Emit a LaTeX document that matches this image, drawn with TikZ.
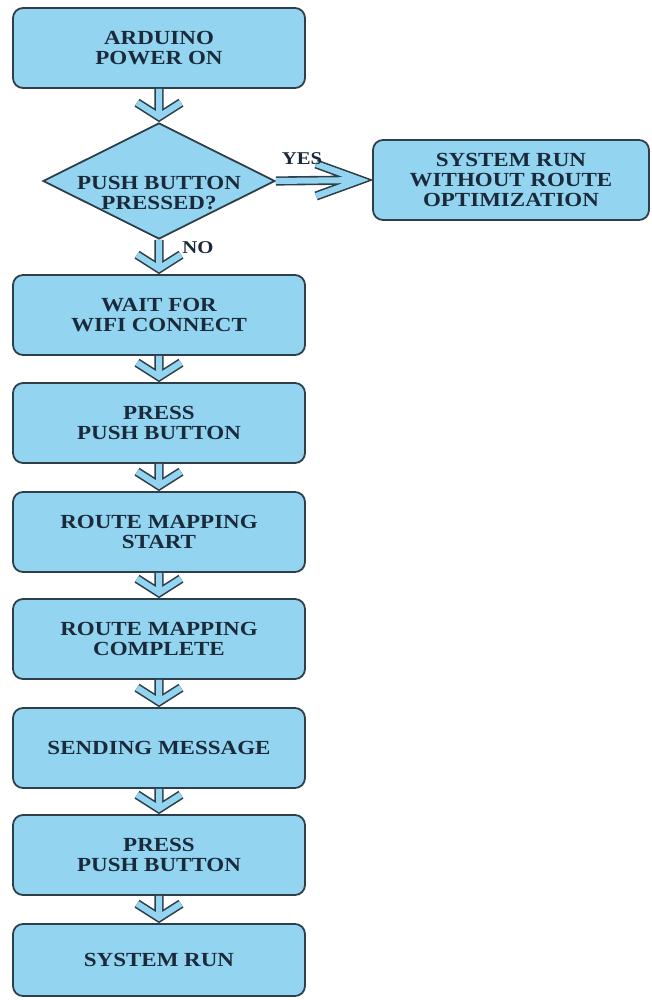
\documentclass[tikz,border=0pt]{standalone}
\usepackage{fontspec}
\setmainfont{Liberation Serif}[FakeStretch=1.15]
\usetikzlibrary{shapes.geometric}
\definecolor{boxfill}{HTML}{93D5F0}
\definecolor{boxline}{HTML}{2E3F4A}
\definecolor{boxtext}{HTML}{1B2A3A}
\tikzset{
	boxfont/.style={text=boxtext, align=center, font=\fontsize{10}{10}\selectfont\bfseries},
	procbox/.style={boxfont, rectangle, rounded corners=5pt, draw=boxline, line width=0.9pt,
			fill=boxfill, minimum width=146pt, minimum height=40pt},
	decbox/.style={diamond, inner sep=0pt, draw=boxline, line width=0.9pt,
			fill=boxfill, minimum width=116pt, minimum height=58pt},
	flowline/.style={draw=boxline, line width=0.8pt, double=boxfill, double distance=3pt,
			line join=miter},
	downarrow/.style={flowline,
			to path={-- ([yshift=2.7pt]\tikztotarget) ++(-22,-14) -- ([yshift=2.7pt]\tikztotarget) -- ++(22,-14)}},
	rightarrow/.style={flowline,
			to path={-- ([xshift=-6pt]\tikztotarget) ++(-44,-16) -- ([xshift=-6pt]\tikztotarget) -- ++(-44,16)}},
	flowlabel/.style={text=boxtext, inner sep=0pt, font=\fontsize{9}{9}\selectfont\bfseries}
}
\begin{document}
\begin{tikzpicture}[x=0.5pt, y=-0.5pt]
		\useasboundingbox (0,0) rectangle (652,1000);
		% main column
		\node[procbox] (poweron) at (159,48) {ARDUINO\\POWER ON};
		\node[decbox, label={[boxfont, yshift=-6pt]center:PUSH BUTTON\\PRESSED?}] (pressed) at (159,181) {};
		\node[procbox, minimum width=138pt] (runplain) at (511,180) {SYSTEM RUN\\WITHOUT ROUTE\\OPTIMIZATION};
		\node[procbox] (wifi) at (159,315) {WAIT FOR\\WIFI CONNECT};
		\node[procbox] (pressone) at (159,423) {PRESS\\PUSH BUTTON};
		\node[procbox] (mapstart) at (159,532) {ROUTE MAPPING\\START};
		\node[procbox] (mapdone) at (159,639) {ROUTE MAPPING\\COMPLETE};
		\node[procbox] (sending) at (159,748) {SENDING MESSAGE};
		\node[procbox] (presstwo) at (159,855) {PRESS\\PUSH BUTTON};
		\node[procbox, minimum height=36pt] (runfinal) at (159,960) {SYSTEM RUN};
		% connectors
		\draw[downarrow] (poweron.south) to (pressed.north);
		\draw[rightarrow] (pressed.east) to (runplain.west);
		\draw[downarrow] (pressed.south) to (wifi.north);
		\draw[downarrow] (wifi.south) to (pressone.north);
		\draw[downarrow] (pressone.south) to (mapstart.north);
		\draw[downarrow] (mapstart.south) to (mapdone.north);
		\draw[downarrow] (mapdone.south) to (sending.north);
		\draw[downarrow] (sending.south) to (presstwo.north);
		\draw[downarrow] (presstwo.south) to (runfinal.north);
		% labels
		\node[flowlabel] (yes) at (302,159) {YES};
		\node[flowlabel] (no) at (198,248) {NO};
	\end{tikzpicture}
\end{document}
